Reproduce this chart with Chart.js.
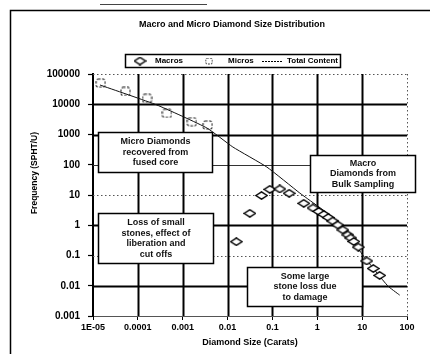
<!DOCTYPE html>
<html><head><meta charset="utf-8">
<script src="https://cdn.jsdelivr.net/npm/chart.js@4"></script>
<style>html,body{margin:0;padding:0;background:#fff;width:430px;height:354px;overflow:hidden}
#wrap{position:relative;width:430px;height:354px}
canvas{display:block}</style>
</head><body><div id="wrap"><canvas id="c" width="430" height="354" style="width:430px;height:354px"></canvas></div>
<script>
const chartTitle = "Macro and Micro Diamond Size Distribution";
const xAxisTitle = "Diamond Size (Carats)";
const yAxisTitle = "Frequency (SPHT/U)";
const xTickValues = [1e-5, 1e-4, 1e-3, 1e-2, 1e-1, 1, 10, 100];
const xTickLabels = ["1E-05", "0.0001", "0.001", "0.01", "0.1", "1", "10", "100"];
const yTickValues = [1e-3, 1e-2, 1e-1, 1, 10, 100, 1000, 10000, 100000];
const yTickLabels = ["0.001", "0.01", "0.1", "1", "10", "100", "1000", "10000", "100000"];

const seriesNames = ["Macros", "Micros", "Total Content"];

const macroSize = [0.0157, 0.0314, 0.0572, 0.0875, 0.146, 0.236, 0.50, 0.805, 1.08, 1.40, 1.76, 2.21, 2.86, 3.70, 4.79, 5.57, 6.51, 8.19, 12.7, 17.7, 24.6];
const macroFreq = [0.286, 2.48, 9.6, 15.4, 15.8, 11.4, 5.3, 3.72, 2.85, 2.27, 1.80, 1.38, 1.02, 0.70, 0.48, 0.38, 0.29, 0.19, 0.066, 0.037, 0.022];

const microSize = [1.48e-5, 5.3e-5, 1.6e-4, 4.45e-4, 1.6e-3, 3.6e-3];
const microFreq = [50000, 26500, 15700, 5000, 2650, 2060];

const totalSize = [1.43e-5, 2.66e-4, 3.46e-3, 0.0131, 0.075, 0.407, 3.17, 10.3, 37, 68.7];
const totalFreq = [43300, 9440, 1640, 386, 84, 11.6, 1.19, 0.104, 0.01, 0.0049];

const noteTexts = [
  ["Micro Diamonds", "recovered from", "fused core"],
  ["Macro", "Diamonds from", "Bulk Sampling"],
  ["Loss of small", "stones, effect of", "liberation and", "cut offs"],
  ["Some large", "stone loss due", "to damage"]
];
// note box corners, in data units (size, frequency)
const noteCorners = [
  [1.29e-5, 1211, 4.47e-3, 57.5],
  [0.68, 210, 148, 12.6],
  [1.29e-5, 2.54, 4.7e-3, 0.0565],
  [0.0269, 0.0417, 9.8, 0.00214]
];

const FONT = "'Liberation Sans', Arial, sans-serif";

function makeMacroImg() {
  const c = document.createElement('canvas'); c.width = 13; c.height = 9;
  const g = c.getContext('2d');
  g.beginPath(); g.moveTo(6.5, 0.8); g.lineTo(12.2, 4.5); g.lineTo(6.5, 8.2); g.lineTo(0.8, 4.5); g.closePath();
  g.fillStyle = '#fff'; g.fill(); g.lineWidth = 1.4; g.strokeStyle = '#000'; g.stroke();
  return c;
}
function makeMicroImg() {
  const c = document.createElement('canvas'); c.width = 11; c.height = 10;
  const g = c.getContext('2d');
  g.setLineDash([2.5, 1.5]);
  g.lineWidth = 1.1; g.strokeStyle = '#222';
  g.beginPath(); if (g.roundRect) g.roundRect(1, 1, 9, 8, 2); else g.rect(1, 1, 9, 8); g.stroke();
  return c;
}
const macroImg = makeMacroImg();
const microImg = makeMicroImg();

const solidY = [10000, 1000, 1, 0.01];
const thinY = [100];

const customDraw = {
  id: 'customDraw',
  beforeDatasetsDraw(chart) {
    const {ctx, chartArea: a, scales: {x, y}} = chart;
    ctx.save();
    yTickValues.forEach(v => {
      if (v === 0.001) return;
      const py = Math.round(y.getPixelForValue(v)) + 0.5;
      ctx.beginPath();
      if (solidY.includes(v)) { ctx.setLineDash([]); ctx.lineWidth = 1.8; ctx.strokeStyle = '#000'; }
      else if (thinY.includes(v)) { ctx.setLineDash([]); ctx.lineWidth = 1; ctx.strokeStyle = '#333'; }
      else { ctx.setLineDash([1.5, 2.5]); ctx.lineWidth = 1; ctx.strokeStyle = '#555'; }
      ctx.moveTo(a.left, py); ctx.lineTo(a.right, py); ctx.stroke();
    });
    xTickValues.forEach(v => {
      if (v === 1e-5) return;
      const px = Math.round(x.getPixelForValue(v)) + 0.5;
      ctx.beginPath();
      if (v === 100) { ctx.setLineDash([1.5, 2.5]); ctx.lineWidth = 1; ctx.strokeStyle = '#555'; }
      else { ctx.setLineDash([]); ctx.lineWidth = 2; ctx.strokeStyle = '#000'; }
      ctx.moveTo(px, a.top); ctx.lineTo(px, a.bottom); ctx.stroke();
    });
    ctx.setLineDash([]);
    noteCorners.forEach((c, i) => {
      const x1 = Math.round(x.getPixelForValue(c[0])) + 0.5, y1 = Math.round(y.getPixelForValue(c[1])) + 0.5;
      const x2 = Math.round(x.getPixelForValue(c[2])) + 0.5, y2 = Math.round(y.getPixelForValue(c[3])) + 0.5;
      ctx.fillStyle = '#fff'; ctx.fillRect(x1, y1, x2 - x1, y2 - y1);
      ctx.lineWidth = 1.5; ctx.strokeStyle = '#000'; ctx.strokeRect(x1, y1, x2 - x1, y2 - y1);
      const lines = noteTexts[i];
      const lh = 10.5;
      const cy = (y1 + y2) / 2 - (lines.length - 1) * lh / 2;
      ctx.fillStyle = '#111'; ctx.font = 'bold 9px ' + FONT; ctx.textAlign = 'center'; ctx.textBaseline = 'middle';
      lines.forEach((t, k) => ctx.fillText(t, (x1 + x2) / 2, cy + k * lh));
    });
    ctx.restore();
  },
  afterDraw(chart) {
    const {ctx} = chart;
    ctx.save();
    ctx.strokeStyle = '#000'; ctx.lineWidth = 1.5;
    ctx.beginPath(); ctx.moveTo(10.5, 354); ctx.lineTo(10.5, 10.5); ctx.lineTo(430, 10.5); ctx.stroke();
    ctx.lineWidth = 1; ctx.strokeStyle = '#444';
    ctx.beginPath(); ctx.moveTo(100, 4.5); ctx.lineTo(207, 4.5); ctx.stroke();
    ctx.fillStyle = '#000'; ctx.font = 'bold 9px ' + FONT; ctx.textAlign = 'center'; ctx.textBaseline = 'middle';
    ctx.fillText(chartTitle, 232, 25);
    ctx.save(); ctx.translate(35, 173); ctx.rotate(-Math.PI / 2);
    ctx.font = 'bold 8.5px ' + FONT; ctx.fillText(yAxisTitle, 0, 0); ctx.restore();
    const lx1 = 125.5, ly1 = 54.5, lx2 = 340.5, ly2 = 67.5, ly = 61;
    ctx.lineWidth = 1.5; ctx.strokeStyle = '#000'; ctx.strokeRect(lx1, ly1, lx2 - lx1, ly2 - ly1);
    ctx.drawImage(macroImg, 140 - 6.5, ly - 4.5);
    ctx.font = 'bold 8px ' + FONT; ctx.textAlign = 'left';
    ctx.fillText(seriesNames[0], 155, ly);
    ctx.drawImage(microImg, 209 - 4, ly - 3.5, 8, 7);
    ctx.fillText(seriesNames[1], 228, ly);
    ctx.lineWidth = 1; ctx.setLineDash([2, 1]); ctx.beginPath(); ctx.moveTo(262, ly + 0.5); ctx.lineTo(283, ly + 0.5); ctx.stroke();
    ctx.setLineDash([]);
    ctx.fillText(seriesNames[2], 287, ly);
    ctx.restore();
  }
};

new Chart(document.getElementById('c'), {
  type: 'scatter',
  data: {
    datasets: [
      { label: seriesNames[0], data: macroSize.map((v, i) => ({x: v, y: macroFreq[i]})),
        pointStyle: macroImg, pointRadius: 5, borderColor: '#000', backgroundColor: '#fff', showLine: false },
      { label: seriesNames[1], data: microSize.map((v, i) => ({x: v, y: microFreq[i]})),
        pointStyle: microImg, pointRadius: 4, borderColor: '#222', backgroundColor: '#fff', showLine: false },
      { label: seriesNames[2], data: totalSize.map((v, i) => ({x: v, y: totalFreq[i]})),
        showLine: true, pointRadius: 0, borderColor: '#111', borderWidth: 1, tension: 0.15 }
    ]
  },
  options: {
    responsive: false,
    animation: false,
    devicePixelRatio: 1,
    layout: { padding: { left: 0, right: 23, top: 74, bottom: 0 } },
    plugins: { legend: { display: false }, title: { display: false }, tooltip: { enabled: false } },
    scales: {
      x: {
        type: 'logarithmic', min: 1e-5, max: 100,
        afterBuildTicks: s => { s.ticks = xTickValues.map(v => ({value: v})); },
        afterFit: s => { s.height = 38; },
        ticks: { callback: v => xTickLabels[xTickValues.indexOf(v)], color: '#000', font: { family: FONT, size: 9, weight: 'bold' }, padding: 2, maxRotation: 0, autoSkip: false },
        grid: { drawOnChartArea: false, drawTicks: true, tickLength: 4, tickColor: '#000', tickWidth: 1 },
        border: { display: true, color: '#555', width: 1, dash: [1.5, 2.5] },
        title: { display: true, text: xAxisTitle, color: '#000', font: { family: FONT, size: 9, weight: 'bold' }, padding: { top: 0, bottom: 6 } }
      },
      y: {
        type: 'logarithmic', min: 1e-3, max: 1e5,
        afterBuildTicks: s => { s.ticks = yTickValues.map(v => ({value: v})); },
        afterFit: s => { s.width = 93; },
        ticks: { callback: v => yTickLabels[yTickValues.indexOf(v)], color: '#000', font: { family: FONT, size: 10, weight: 'bold' }, padding: 8, autoSkip: false },
        grid: { drawOnChartArea: false, drawTicks: true, tickLength: 5, tickColor: '#000', tickWidth: 1.2 },
        border: { display: true, color: '#000', width: 2 }
      }
    }
  },
  plugins: [customDraw]
});
</script></body></html>
